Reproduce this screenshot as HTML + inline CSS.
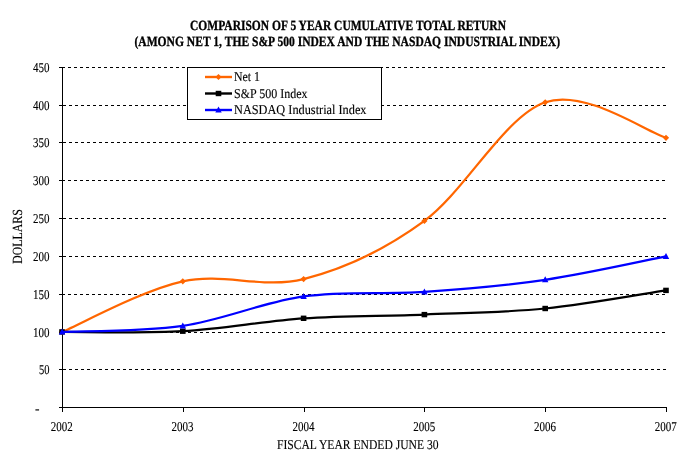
<!DOCTYPE html>
<html><head><meta charset="utf-8"><style>
html,body{margin:0;padding:0;background:#fff;width:697px;height:462px;overflow:hidden}
.w{will-change:transform;width:697px;height:462px}
svg{display:block}
svg{text-rendering:geometricPrecision}
text{font-family:"Liberation Serif",serif;font-size:13.5px;fill:#000;stroke:#000;stroke-width:0.12px}
.t{font-size:14px;font-weight:bold;stroke-width:0.3px}
.g{stroke:#000;stroke-width:1;stroke-dasharray:3 3}
.a{stroke:#000;stroke-width:1}
</style></head><body><div class="w">
<svg width="697" height="462" viewBox="0 0 697 462">
<rect width="697" height="462" fill="#fff"/>
<text x="190" y="29.7" class="t" textLength="316" lengthAdjust="spacingAndGlyphs">COMPARISON OF 5 YEAR CUMULATIVE TOTAL RETURN</text>
<text x="134.5" y="45.7" class="t" textLength="425.5" lengthAdjust="spacingAndGlyphs">(AMONG NET 1, THE S&amp;P 500 INDEX AND THE NASDAQ INDUSTRIAL INDEX)</text>
<line x1="65" y1="369.5" x2="666" y2="369.5" class="g" stroke-dashoffset="-4"/>
<line x1="65" y1="332.5" x2="666" y2="332.5" class="g" stroke-dashoffset="-3"/>
<line x1="65" y1="294.5" x2="666" y2="294.5" class="g" stroke-dashoffset="-3"/>
<line x1="65" y1="256.5" x2="666" y2="256.5" class="g" stroke-dashoffset="-4"/>
<line x1="65" y1="218.5" x2="666" y2="218.5" class="g" stroke-dashoffset="-4"/>
<line x1="65" y1="180.5" x2="666" y2="180.5" class="g" stroke-dashoffset="-3"/>
<line x1="65" y1="142.5" x2="666" y2="142.5" class="g" stroke-dashoffset="-4"/>
<line x1="65" y1="105.5" x2="666" y2="105.5" class="g" stroke-dashoffset="-4"/>
<line x1="65" y1="67.5" x2="666" y2="67.5" class="g" stroke-dashoffset="-3"/>

<line x1="62.5" y1="67" x2="62.5" y2="407.5" class="a"/>
<line x1="62" y1="407.5" x2="666.5" y2="407.5" class="a"/>
<line x1="59" y1="407.5" x2="65" y2="407.5" class="a"/>
<line x1="59" y1="369.5" x2="65" y2="369.5" class="a"/>
<line x1="59" y1="332.5" x2="65" y2="332.5" class="a"/>
<line x1="59" y1="294.5" x2="65" y2="294.5" class="a"/>
<line x1="59" y1="256.5" x2="65" y2="256.5" class="a"/>
<line x1="59" y1="218.5" x2="65" y2="218.5" class="a"/>
<line x1="59" y1="180.5" x2="65" y2="180.5" class="a"/>
<line x1="59" y1="142.5" x2="65" y2="142.5" class="a"/>
<line x1="59" y1="105.5" x2="65" y2="105.5" class="a"/>
<line x1="59" y1="67.5" x2="65" y2="67.5" class="a"/>
<line x1="62.5" y1="407" x2="62.5" y2="412" class="a"/>
<line x1="183.5" y1="407" x2="183.5" y2="412" class="a"/>
<line x1="304.5" y1="407" x2="304.5" y2="412" class="a"/>
<line x1="424.5" y1="407" x2="424.5" y2="412" class="a"/>
<line x1="545.5" y1="407" x2="545.5" y2="412" class="a"/>
<line x1="666.5" y1="407" x2="666.5" y2="412" class="a"/>

<text x="39.0" y="374.2" textLength="10.5" lengthAdjust="spacingAndGlyphs">50</text>
<text x="33.0" y="337.2" textLength="16.5" lengthAdjust="spacingAndGlyphs">100</text>
<text x="33.0" y="299.2" textLength="16.5" lengthAdjust="spacingAndGlyphs">150</text>
<text x="33.0" y="261.2" textLength="16.5" lengthAdjust="spacingAndGlyphs">200</text>
<text x="33.0" y="223.2" textLength="16.5" lengthAdjust="spacingAndGlyphs">250</text>
<text x="33.0" y="185.2" textLength="16.5" lengthAdjust="spacingAndGlyphs">300</text>
<text x="33.0" y="147.2" textLength="16.5" lengthAdjust="spacingAndGlyphs">350</text>
<text x="33.0" y="110.2" textLength="16.5" lengthAdjust="spacingAndGlyphs">400</text>
<text x="33.0" y="72.2" textLength="16.5" lengthAdjust="spacingAndGlyphs">450</text>
<text x="35" y="413">-</text>

<text x="50.8" y="430.8" textLength="22" lengthAdjust="spacingAndGlyphs">2002</text>
<text x="171.6" y="430.8" textLength="22" lengthAdjust="spacingAndGlyphs">2003</text>
<text x="292.4" y="430.8" textLength="22" lengthAdjust="spacingAndGlyphs">2004</text>
<text x="413.2" y="430.8" textLength="22" lengthAdjust="spacingAndGlyphs">2005</text>
<text x="534.0" y="430.8" textLength="22" lengthAdjust="spacingAndGlyphs">2006</text>
<text x="654.8" y="430.8" textLength="22" lengthAdjust="spacingAndGlyphs">2007</text>

<text x="277" y="448.8" textLength="161.5" lengthAdjust="spacingAndGlyphs">FISCAL YEAR ENDED JUNE 30</text>
<text transform="translate(21.8,236.5) rotate(-90)" text-anchor="middle" style="font-size:14px" textLength="54.5" lengthAdjust="spacingAndGlyphs">DOLLARS</text>
<path d="M62.00,331.94 C82.13,323.51 142.53,290.14 182.80,281.32 C223.07,272.51 263.33,289.13 303.60,279.06 C343.87,268.98 384.13,250.34 424.40,220.88 C464.67,191.41 504.93,116.11 545.20,102.26 C585.47,88.40 645.87,131.85 666.00,137.77" fill="none" stroke="#FF6600" stroke-width="2.3"/>
<path d="M62.0,328.8 L65.1,331.9 L62.0,335.0 L58.9,331.9 Z" fill="#FF6600"/><path d="M182.8,278.2 L185.9,281.3 L182.8,284.4 L179.7,281.3 Z" fill="#FF6600"/><path d="M303.6,276.0 L306.7,279.1 L303.6,282.2 L300.5,279.1 Z" fill="#FF6600"/><path d="M424.4,217.8 L427.5,220.9 L424.4,224.0 L421.3,220.9 Z" fill="#FF6600"/><path d="M545.2,99.2 L548.3,102.3 L545.2,105.4 L542.1,102.3 Z" fill="#FF6600"/><path d="M666.0,134.7 L669.1,137.8 L666.0,140.9 L662.9,137.8 Z" fill="#FF6600"/>
<path d="M62.00,331.94 C82.13,331.82 142.53,333.46 182.80,331.19 C223.07,328.92 263.33,321.11 303.60,318.34 C343.87,315.57 384.13,316.20 424.40,314.57 C464.67,312.93 504.93,312.55 545.20,308.52 C585.47,304.49 645.87,293.41 666.00,290.39" fill="none" stroke="#000000" stroke-width="2.2"/>
<rect x="59.2" y="329.2" width="5.6" height="5.4" fill="#000000"/><rect x="180.0" y="328.5" width="5.6" height="5.4" fill="#000000"/><rect x="300.8" y="315.6" width="5.6" height="5.4" fill="#000000"/><rect x="421.6" y="311.9" width="5.6" height="5.4" fill="#000000"/><rect x="542.4" y="305.8" width="5.6" height="5.4" fill="#000000"/><rect x="663.2" y="287.7" width="5.6" height="5.4" fill="#000000"/>
<path d="M62.00,331.94 C82.13,330.94 142.53,331.82 182.80,325.90 C223.07,319.98 263.33,302.10 303.60,296.43 C343.87,290.77 384.13,294.67 424.40,291.90 C464.67,289.13 504.93,285.73 545.20,279.81 C585.47,273.89 645.87,260.29 666.00,256.39" fill="none" stroke="#0000FF" stroke-width="2.2"/>
<path d="M62.0,328.4 L65.2,334.4 L58.8,334.4 Z" fill="#0000FF"/><path d="M182.8,322.4 L186.0,328.4 L179.6,328.4 Z" fill="#0000FF"/><path d="M303.6,292.9 L306.8,298.9 L300.4,298.9 Z" fill="#0000FF"/><path d="M424.4,288.4 L427.6,294.4 L421.2,294.4 Z" fill="#0000FF"/><path d="M545.2,276.3 L548.4,282.3 L542.0,282.3 Z" fill="#0000FF"/><path d="M666.0,252.9 L669.2,258.9 L662.8,258.9 Z" fill="#0000FF"/>
<rect x="187.5" y="67.5" width="194" height="52" fill="#fff" stroke="#000" stroke-width="1"/>
<line x1="205" y1="77" x2="232" y2="77" stroke="#FF6600" stroke-width="2.4"/>
<path d="M218.5,73.9 L221.6,77.0 L218.5,80.1 L215.4,77.0 Z" fill="#FF6600"/>
<line x1="205" y1="93.5" x2="232" y2="93.5" stroke="#000000" stroke-width="2.4"/>
<rect x="215.7" y="90.8" width="5.6" height="5.4" fill="#000000"/>
<line x1="205" y1="110" x2="232" y2="110" stroke="#0000FF" stroke-width="2.4"/>
<path d="M218.5,106.5 L221.7,112.5 L215.3,112.5 Z" fill="#0000FF"/>
<text x="234" y="80.8" textLength="26" lengthAdjust="spacingAndGlyphs">Net 1</text>
<text x="234" y="97.8" textLength="73.5" lengthAdjust="spacingAndGlyphs">S&amp;P 500 Index</text>
<text x="234" y="113.9" textLength="132.5" lengthAdjust="spacingAndGlyphs">NASDAQ Industrial Index</text>
</svg>
</div></body></html>
